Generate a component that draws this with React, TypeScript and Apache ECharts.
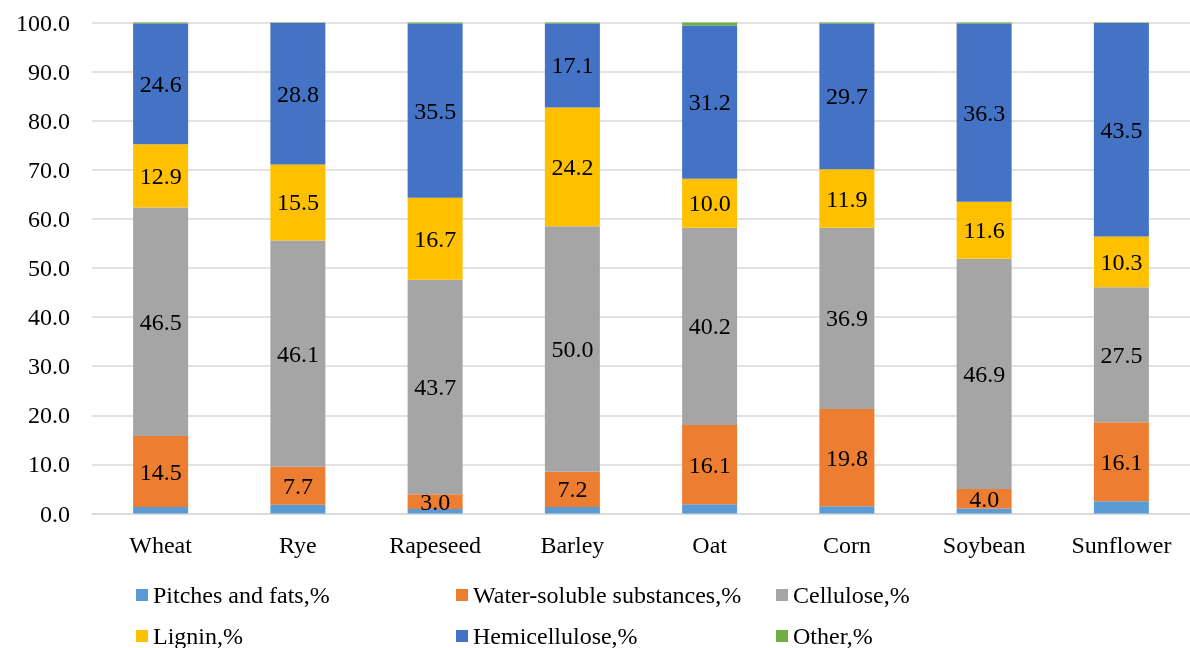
import React, { useEffect, useRef } from "react";
import * as echarts from "echarts";

const categories = ["Wheat", "Rye", "Rapeseed", "Barley", "Oat", "Corn", "Soybean", "Sunflower"];
const seriesNames = [
  "Pitches and fats,%",
  "Water-soluble substances,%",
  "Cellulose,%",
  "Lignin,%",
  "Hemicellulose,%",
  "Other,%",
];
const pitches = [1.3, 1.8, 0.9, 1.3, 1.9, 1.5, 1.0, 2.5];
const waterSoluble = [14.5, 7.7, 3.0, 7.2, 16.1, 19.8, 4.0, 16.1];
const cellulose = [46.5, 46.1, 43.7, 50.0, 40.2, 36.9, 46.9, 27.5];
const lignin = [12.9, 15.5, 16.7, 24.2, 10.0, 11.9, 11.6, 10.3];
const hemicellulose = [24.6, 28.8, 35.5, 17.1, 31.2, 29.7, 36.3, 43.5];
const other = [0.2, 0.1, 0.2, 0.2, 0.6, 0.2, 0.2, 0.1];

const colors = ["#5B9BD5", "#ED7D31", "#A5A5A5", "#FFC000", "#4472C4", "#70AD47"];
const showLabel = [false, true, true, true, true, false];
const values = [pitches, waterSoluble, cellulose, lignin, hemicellulose, other];

export default function App() {
  const ref = useRef<HTMLDivElement>(null);
  useEffect(() => {
    if (!ref.current) return;
    const chart = echarts.init(ref.current, null, { renderer: "svg" });
    const legendPos = [
      { left: 136, top: 583 },
      { left: 456, top: 583 },
      { left: 776, top: 583 },
      { left: 136, top: 624 },
      { left: 456, top: 624 },
      { left: 776, top: 624 },
    ];
    chart.setOption({
      animation: false,
      grid: { left: 92, top: 22.5, width: 1104, height: 491 },
      legend: seriesNames.map((n, i) => ({
        data: [n],
        left: legendPos[i].left,
        top: legendPos[i].top,
        itemWidth: 12,
        itemHeight: 12,
        icon: "rect",
        padding: 0,
        textStyle: { fontFamily: "Liberation Serif", fontSize: 24, color: "#000" },
        selectedMode: false,
      })),
      xAxis: {
        type: "category",
        data: categories,
        axisTick: { show: false },
        axisLine: { lineStyle: { color: "#D9D9D9", width: 1.5 } },
        axisLabel: { fontFamily: "Liberation Serif", fontSize: 24, color: "#000", margin: 19 },
      },
      yAxis: {
        type: "value",
        min: 0,
        max: 100,
        interval: 10,
        axisLabel: {
          fontFamily: "Liberation Serif",
          fontSize: 24,
          color: "#000",
          margin: 22,
          formatter: (v: number) => v.toFixed(1),
        },
        splitLine: { lineStyle: { color: "#D9D9D9", width: 1.5 } },
        axisLine: { show: false },
        axisTick: { show: false },
      },
      series: seriesNames.map((n, i) => ({
        name: n,
        type: "bar",
        stack: "total",
        barWidth: 55,
        data: values[i],
        itemStyle: { color: colors[i] },
        label: {
          show: showLabel[i],
          position: "inside",
          fontFamily: "Liberation Serif",
          fontSize: 24,
          color: "#000",
          formatter: (p: any) => Number(p.value).toFixed(1),
        },
      })),
    });
    return () => chart.dispose();
  }, []);
  return <div ref={ref} style={{ position: "fixed", left: 0, top: 0, width: 1190, height: 648 }} />;
}
